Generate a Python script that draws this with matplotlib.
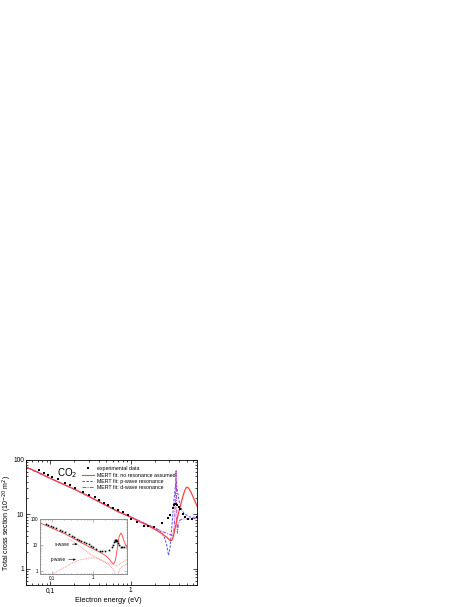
import numpy as np
import matplotlib.pyplot as plt
from matplotlib.lines import Line2D

plt.rcParams['font.family'] = ['Liberation Sans', 'DejaVu Sans']

# dados experimentais
E_exp = [0.0725, 0.0827, 0.0936, 0.104, 0.1256, 0.1546, 0.1766, 0.2037, 0.2578, 0.306,
         0.356, 0.41, 0.469, 0.525, 0.605, 0.692, 0.804, 0.92, 1.0, 1.19, 1.46, 1.67,
         1.94, 2.44, 2.92, 3.12, 3.33, 3.49, 3.56, 3.63, 3.7, 3.77, 3.95, 4.14, 4.43,
         4.78, 5.25, 5.77, 6.66]
CS_exp = [66.4, 57.6, 52, 47.7, 43.9, 37.4, 34.8, 31, 26.1, 23, 20.5, 18.0, 16.3, 14.7,
          13.3, 12.0, 10.9, 9.6, 8.3, 7.2, 6.2, 6.05, 5.9, 6.8, 8.7, 9.9, 13.1, 14.7,
          15.2, 15.4, 15.3, 14.9, 13.9, 12.4, 10.1, 8.9, 8.3, 8.3, 8.9]

# MERT: sem ressonancia
E_red = [0.05, 0.07, 0.1, 0.15, 0.2, 0.3, 0.4, 0.5, 0.7, 1.0, 1.3, 1.6, 2.0, 2.4, 2.8,
         3.1, 3.25, 3.4, 3.55, 3.7, 3.85, 4.0, 4.2, 4.4, 4.6, 4.8, 4.95, 5.1, 5.3, 5.6,
         5.9, 6.2, 6.5, 6.8]
CS_red = [74, 60, 46, 35, 29, 21.5, 17.2, 14.5, 11.2, 8.9, 7.3, 6.3, 5.3, 4.5, 3.8,
          3.3, 3.3, 3.9, 5.2, 7.0, 9.0, 11.5, 15, 19.5, 24.5, 29, 31.5, 31.5, 30, 26,
          22, 18.5, 15.8, 13.5]

# MERT: ressonancia p
E_blue = [0.05, 0.1, 0.2, 0.3, 0.5, 0.7, 1.0, 1.3, 1.6, 2.0, 2.3, 2.6, 2.8, 2.97, 3.1,
          3.25, 3.36, 3.45, 3.55, 3.68, 3.75, 3.88, 4.0, 4.15, 4.35, 4.6, 5.0, 5.4,
          5.8, 6.3, 6.8]
CS_blue = [74, 46, 29, 21.5, 14.5, 11.2, 9.0, 7.5, 6.5, 5.6, 5.0, 4.0, 2.8, 1.75, 2.5,
           5.5, 10.5, 17, 27, 40, 33, 23.5, 18, 15, 12, 10.5, 9.6, 9.0, 8.8, 8.9, 9.2]

# MERT: ressonancia d
E_pur = [0.05, 0.1, 0.2, 0.3, 0.5, 0.7, 1.0, 1.3, 1.6, 2.0, 2.5, 3.0, 3.3, 3.45, 3.55,
         3.62, 3.68, 3.72, 3.76, 3.82, 3.92, 4.1, 4.4, 5.0, 5.5, 6.0, 6.8]
CS_pur = [74, 46, 29, 21.5, 14.5, 11.2, 9.0, 7.5, 6.5, 5.6, 4.8, 4.3, 4.1, 5, 9,
          25, 65, 30, 8, 4.5, 6.5, 7.8, 8.2, 8.2, 8.2, 8.3, 8.6]

# inset: total e ondas parciais
E_in = [0.05, 0.1, 0.2, 0.3, 0.5, 0.7, 1.0, 1.5, 2.0, 2.5, 2.9, 3.2, 3.5, 3.8, 4.1,
        4.4, 4.8, 5.2, 5.7, 6.2, 6.8]
CS_in = [72, 45, 28, 20, 13, 9.8, 7.4, 5.4, 4.1, 3.0, 2.2, 1.9, 2.5, 5, 12, 22, 29,
         24, 15, 11, 9]
E_s = [0.25, 0.3, 0.42, 0.6, 0.83, 1.2, 1.8, 2.5, 3.0, 3.4, 3.6, 3.75, 3.9, 4.2, 4.6,
       5.2, 6.0, 6.8]
CS_s = [17, 15, 10.8, 7.2, 4.8, 3.4, 2.4, 1.8, 1.3, 0.9, 0.6, 0.3, 0.3, 0.9, 1.3, 1.6,
        1.8, 2.0]
E_p = [0.1, 0.12, 0.2, 0.32, 0.5, 0.83, 1.2, 1.6, 2.37, 3.16, 3.6, 4.0, 4.5, 5.1, 6.0,
       6.8]
CS_p = [0.75, 0.9, 1.4, 2.1, 2.8, 3.3, 3.3, 2.8, 2.0, 1.84, 1.6, 1.7, 1.9, 2.2, 2.5,
        2.8]

fig = plt.figure(figsize=(4.69, 6.07), dpi=100)
ax = fig.add_axes([26 / 469, 22 / 607, 171 / 469, 125 / 607])

ax.plot(E_blue, CS_blue, color='#4d4dff', lw=0.7, ls=(0, (2.5, 1.5)))
ax.plot(E_pur, CS_pur, color='#b040c0', lw=0.7, ls=(0, (4, 1.2, 1, 1.2)))
ax.plot(E_red, CS_red, color='#ff4040', lw=0.9)
ax.plot(E_exp, CS_exp, 's', color='black', ms=1.5, mew=0)

ax.set_xscale('log')
ax.set_yscale('log')
ax.set_xlim(0.05, 6.7)
ax.set_ylim(0.5, 100)
ax.set_xticks([0.1, 1])
ax.set_xticklabels(['0,1', '1'])
ax.set_yticks([1, 10, 100])
ax.set_yticklabels(['1', '10', '100'])
ax.tick_params(which='both', direction='in', top=True, right=True, labelsize=4.8, pad=1.5, width=0.5)
ax.tick_params(which='major', length=3)
ax.tick_params(which='minor', length=1.5)
for s in ax.spines.values():
    s.set_linewidth(0.6)

ax.set_xlabel('Electron energy (eV)', fontsize=5.2)
ax.xaxis.set_label_coords(0.48, -0.095)
ax.set_ylabel('Total cross section (10$^{-20}$ m$^2$)', fontsize=5)
ax.yaxis.set_label_coords(-0.07, 0.5)

ax.text(0.182, 0.895, 'CO$_2$', transform=ax.transAxes, fontsize=7, va='center')

handles = [
    Line2D([], [], ls='none', marker='s', color='black', ms=1.6, mew=0),
    Line2D([], [], color='#ff4040', lw=0.8),
    Line2D([], [], color='#4d4dff', lw=0.7, ls=(0, (2.5, 1.5))),
    Line2D([], [], color='#b040c0', lw=0.7, ls=(0, (4, 1.2, 1, 1.2))),
]
labels = ['experimental data', 'MERT fit: no resonance assumed',
          'MERT fit: p-wave resonance', 'MERT fit: d-wave resonance']
ax.legend(handles, labels, loc='upper left', bbox_to_anchor=(0.327, 0.95), frameon=False,
          fontsize=3.8, handlelength=2.3, handletextpad=0.6, labelspacing=0.25,
          borderpad=0, borderaxespad=0)

# inset
ins = fig.add_axes([39.5 / 469, 33 / 607, 87.5 / 469, 55 / 607])
ins.plot(E_in, CS_in, color='#ff4040', lw=0.6)
ins.plot(E_s, CS_s, color='#ff8080', lw=0.6, ls=(0, (1, 1)))
ins.plot(E_p, CS_p, color='#ff8080', lw=0.6, ls=(0, (1, 1)))
ins.plot(E_exp, CS_exp, 's', color='black', ms=1.2, mew=0)
ins.set_xscale('log')
ins.set_yscale('log')
ins.set_xlim(0.05, 6.8)
ins.set_ylim(0.8, 100)
ins.set_xticks([0.1, 1])
ins.set_xticklabels(['0,1', '1'])
ins.set_yticks([1, 10, 100])
ins.set_yticklabels(['1', '10', '100'])
ins.tick_params(which='both', direction='in', top=True, right=True, labelsize=3.3, pad=1,
                width=0.4, color='#808080')
ins.tick_params(which='major', length=2)
ins.tick_params(which='minor', length=1)
for s in ins.spines.values():
    s.set_linewidth(0.7)
    s.set_color('#909090')

arr = dict(arrowstyle='-|>', lw=0.4, color='black', mutation_scale=3, shrinkA=0, shrinkB=0)
ins.annotate('s-wave', xy=(0.42, 11), xytext=(0.27, 11), ha='right', va='center',
             fontsize=3.3, arrowprops=arr)
ins.annotate('p-wave', xy=(0.385, 2.84), xytext=(0.22, 2.84), ha='right', va='center',
             fontsize=3.3, arrowprops=arr)

plt.savefig('out.png', dpi=100)
